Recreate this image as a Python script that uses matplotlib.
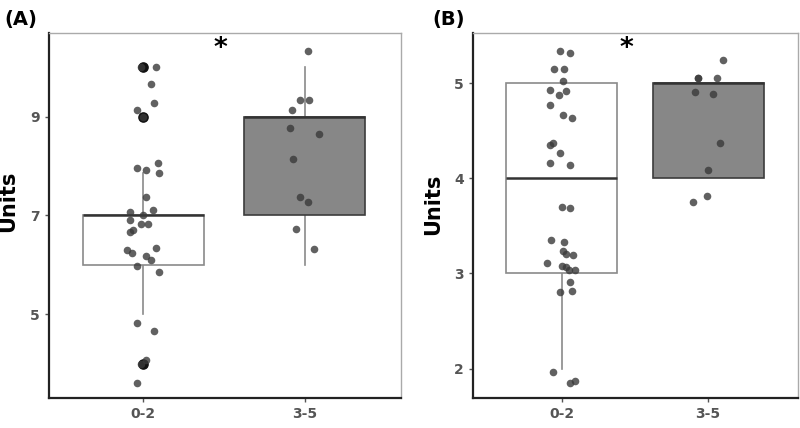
import numpy as np
import matplotlib
matplotlib.use('Agg')
import matplotlib.pyplot as plt

groups = ['0-2', '3-5']

# panel A: jittered points (x offset from group centre, value)
a_low_dx = [0.08, 0.05, 0.07, -0.04, -0.04, 0.02, 0.09, 0.10, 0.02, -0.08,
            -0.00, 0.06, -0.08, -0.01, 0.03, -0.08, -0.06, -0.10, -0.07, 0.08,
            0.02, 0.05, -0.04, 0.10, -0.04, 0.07, 0.02, -0.04, -0.01, -0.00, -0.01]
a_low_y = [10.0, 9.66, 9.29, 9.14, 7.97, 7.93, 8.07, 7.86, 7.38, 7.07,
           7.02, 7.12, 6.90, 6.83, 6.83, 6.66, 6.70, 6.30, 6.23, 6.35,
           6.17, 6.09, 5.98, 5.86, 4.83, 4.65, 4.08, 3.60, 10.0, 9.0, 4.0]
a_high_dx = [0.02, -0.03, 0.03, -0.08, -0.09, 0.09, -0.07, -0.03, 0.02, -0.05, 0.06]
a_high_y = [10.33, 9.35, 9.35, 9.14, 8.78, 8.66, 8.14, 7.37, 7.28, 6.73, 6.33]
a_outliers = [10.0, 9.0, 4.0]

# box stats: whisker low, q1, median, q3, whisker high
a_stats = [(5.0, 6.0, 7.0, 7.0, 7.87), (6.0, 7.0, 9.0, 9.0, 10.0)]

# panel B
b_low_dx = [-0.01, 0.06, -0.05, 0.02, 0.01, -0.08, -0.02, 0.03, -0.08, 0.01,
            0.07, -0.08, -0.06, -0.01, -0.08, 0.06, 0.00, 0.06, -0.07, 0.02,
            0.01, 0.03, 0.08, -0.10, 0.00, 0.03, 0.05, 0.09, 0.06, -0.01,
            0.07, -0.06, 0.06, 0.09]
b_low_y = [5.34, 5.32, 5.15, 5.15, 5.02, 4.93, 4.88, 4.92, 4.77, 4.67,
           4.64, 4.35, 4.37, 4.27, 4.16, 4.14, 3.70, 3.69, 3.35, 3.33,
           3.24, 3.21, 3.19, 3.11, 3.08, 3.07, 3.04, 3.04, 2.91, 2.81,
           2.82, 1.96, 1.85, 1.87]
b_high_dx = [-0.07, -0.07, 0.06, 0.10, -0.09, 0.03, 0.08, 0.00, -0.10, -0.01]
b_high_y = [5.06, 5.06, 5.06, 5.25, 4.91, 4.89, 4.37, 4.09, 3.75, 3.82]
b_stats = [(2.0, 3.0, 4.0, 5.0, 5.0), (4.0, 4.0, 5.0, 5.0, 5.0)]

fig = plt.figure(figsize=(8, 4.28), dpi=100)
axA = fig.add_axes([0.061, 0.070, 0.440, 0.853])
axB = fig.add_axes([0.591, 0.070, 0.406, 0.853])


def make_bxp(stats):
    out = []
    for lo, q1, med, q3, hi in stats:
        out.append(dict(whislo=lo, q1=q1, med=med, q3=q3, whishi=hi, fliers=[]))
    return out


def draw_panel(ax, stats, low_dx, low_y, high_dx, high_y, outliers, width):
    bp = ax.bxp(make_bxp(stats), positions=[1, 2], widths=width,
                patch_artist=True, showcaps=False, showfliers=False)
    fills = ['white', '#878787']
    edges = ['#8a8a8a', '#3c3c3c']
    for i, box in enumerate(bp['boxes']):
        box.set_facecolor(fills[i])
        box.set_edgecolor(edges[i])
        box.set_linewidth(1.2)
        box.set_zorder(2)
    for w in bp['whiskers']:
        w.set_color('#8a8a8a')
        w.set_linewidth(1.2)
        w.set_zorder(1)
    for m in bp['medians']:
        m.set_color('#333333')
        m.set_linewidth(1.8)
        m.set_zorder(3)
    if outliers:
        ax.scatter([1] * len(outliers), outliers, s=44, color='#111111', zorder=4)
    ax.scatter(1 + np.array(low_dx), low_y, s=30, color='#3a3a3a', alpha=0.8,
               linewidths=0, zorder=5)
    ax.scatter(2 + np.array(high_dx), high_y, s=30, color='#3a3a3a', alpha=0.8,
               linewidths=0, zorder=5)
    ax.set_xticks([1, 2])
    ax.set_xticklabels(groups)
    ax.set_ylabel('Units', fontsize=15, fontweight='bold')
    for side in ['top', 'right']:
        ax.spines[side].set_color('#aaaaaa')
        ax.spines[side].set_linewidth(1.0)
    for side in ['left', 'bottom']:
        ax.spines[side].set_color('#222222')
        ax.spines[side].set_linewidth(1.6)
    ax.tick_params(axis='both', colors='#555555', labelsize=10, length=3,
                   width=1)
    for lab in ax.get_xticklabels() + ax.get_yticklabels():
        lab.set_fontweight('bold')
        lab.set_color('#555555')


draw_panel(axA, a_stats, a_low_dx, a_low_y, a_high_dx, a_high_y, a_outliers, 0.75)
axA.set_xlim(0.416, 2.596)
axA.set_ylim(3.30, 10.70)
axA.set_yticks([5, 7, 9])
axA.yaxis.set_label_coords(-0.086, 0.538)
axA.text(1.48, 10.38, '*', fontsize=19, fontweight='bold', ha='center', va='center')

draw_panel(axB, b_stats, b_low_dx, b_low_y, b_high_dx, b_high_y, [], 0.756)
axB.set_xlim(0.395, 2.61)
axB.set_ylim(1.69, 5.53)
axB.set_yticks([2, 3, 4, 5])
axB.yaxis.set_label_coords(-0.092, 0.532)
axB.text(1.44, 5.36, '*', fontsize=19, fontweight='bold', ha='center', va='center')

fig.text(0.006, 0.955, '(A)', fontsize=14, fontweight='bold', va='center')
fig.text(0.541, 0.955, '(B)', fontsize=14, fontweight='bold', va='center')

fig.savefig('out.png', dpi=100)
